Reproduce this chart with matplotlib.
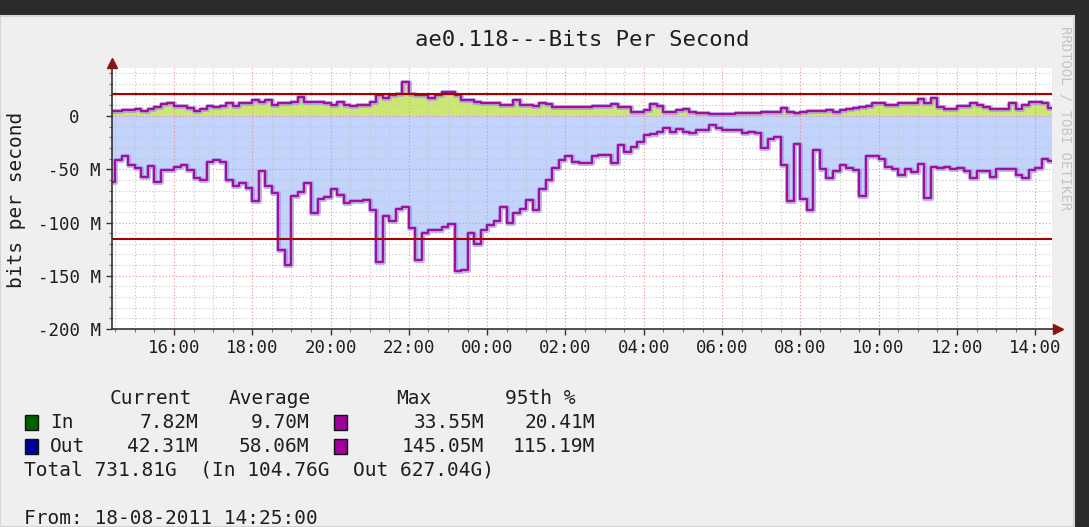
import pandas as pd
import matplotlib
matplotlib.use("Agg")
import matplotlib.pyplot as plt
import matplotlib.dates as mdates
from matplotlib.ticker import MultipleLocator
from matplotlib.patches import Rectangle

W, H = 1089, 527

# 10-minute samples, 18-08-2011 14:25 -> 19-08-2011 14:25 (Mbit/s)
times = pd.date_range("2011-08-18 14:25", periods=145, freq="10min")

in_mbps = [5, 5, 5.5, 5.5, 6.5, 5, 7, 8, 11, 12.5, 9, 9.5, 7.5, 5, 7, 9, 8, 9, 12, 9, 12, 12, 15, 13, 15,
           10, 12, 12, 13.5, 18, 13.5, 13.5, 13.5, 12, 10.5, 13, 10, 9, 10, 10, 13, 20, 17, 19.5, 21, 32, 21, 20,
           20, 17, 20, 22.5, 22.5, 20, 15, 15, 13.5, 12, 12, 12, 10.5, 10, 15, 10, 10, 9.5, 12, 11, 8.5, 8, 8, 8,
           8.8, 8.8, 9.4, 9.4, 9.4, 11, 8.8, 8.8, 4, 4, 5.6, 11, 9, 4.1, 4.1, 5.6, 6.6, 4, 3, 3, 2, 2, 2, 2,
           2.5, 3, 3, 3, 3.3, 3.3, 3.3, 7.2, 4, 3, 4, 5, 5, 5, 5.6, 4, 6, 6.6, 7.5, 8, 9, 12, 11.9, 10.3,
           10.3, 12, 12, 12, 15.6, 12, 17, 8.8, 6.3, 7, 9.4, 9.4, 12, 10.3, 8.8, 6.3, 7, 7, 12.5, 7, 10.3, 13.4, 13.4, 12, 7.8]

out_mbps = [62, 41, 38, 46, 49, 57, 47, 62, 51, 51, 48, 46, 51, 58, 60, 43, 41, 43, 60, 66, 63, 68, 80, 52, 66,
            72, 126, 140, 75, 71, 63, 91, 78, 76, 69, 74, 82, 80, 80, 79, 88, 137, 94, 99, 87, 85, 105, 135,
            110, 107, 107, 104, 101, 146, 145, 110, 120, 107, 102, 99, 85, 100, 91, 87, 79, 88, 69, 60, 49, 41, 38, 43,
            44, 44, 38, 37, 37, 44, 27, 34, 29, 24, 18, 16.5, 15, 11.5, 14.7, 12, 14.7, 16, 13, 13, 8.5, 11.6, 13, 13,
            13, 16, 15, 16, 30, 22, 19.4, 46, 80, 26, 78, 88, 32, 50, 58, 52, 46, 49, 51, 75, 38, 38, 40, 48,
            50, 55, 50, 53, 45, 77, 47.5, 49, 47.5, 50, 49, 52, 58, 52, 52, 57, 50, 50, 50, 55, 58, 51, 49, 40, 42]

in_p95 = 20.41
out_p95 = 115.19

y_ticks = [0, -50, -100, -150, -200]
y_tick_labels = ["0  ", "-50 M", "-100 M", "-150 M", "-200 M"]

legend_header = [("Current", 110), ("Average", 229), ("Max", 396), ("95th %", 505)]
legend_rows = [
    ("In", "#006000", ["7.82M", "9.70M", "33.55M", "20.41M"], 422),
    ("Out", "#00009a", ["42.31M", "58.06M", "145.05M", "115.19M"], 446),
]
total_line = "Total 731.81G  (In 104.76G  Out 627.04G)"
from_line = "From: 18-08-2011 14:25:00"

plt.rcParams["font.family"] = "DejaVu Sans Mono"
txt = "#1e1e1e"


def fx(x):
    return x / W


def fy(y):
    return 1 - y / H


fig = plt.figure(figsize=(W / 100, H / 100), dpi=100, facecolor="#2b2b2b")
fig.add_artist(Rectangle((0, 0), fx(1074), 1 - 16 / H, transform=fig.transFigure,
                         facecolor="#efefef", edgecolor="#d4d4d4", lw=1.5, zorder=-5))

top_px, bot_px = 68, 329
ax = fig.add_axes([fx(112), fy(bot_px), 939.6 / W, (bot_px - top_px) / H])
ax.set_facecolor("white")

t0 = times[0]
ax.set_xlim(t0, t0 + pd.Timedelta(hours=24))
ax.set_ylim(-200, -200 + 200 * (bot_px - top_px) / 213)

neg_out = [-v for v in out_mbps]
ax.fill_between(times, 0, in_mbps, step="mid", color="#cce674", lw=0, zorder=1)
ax.fill_between(times, 0, neg_out, step="mid", color="#c2d3fc", lw=0, zorder=1)
for series in (in_mbps, neg_out):
    ax.step(times, series, where="mid", color="#a496e6", lw=3.6, alpha=0.7, zorder=3)
    ax.step(times, series, where="mid", color="#a0109a", lw=1.6, zorder=3.2)

ax.axhline(in_p95, color="#a80000", lw=1.5, zorder=4)
ax.axhline(-out_p95, color="#a80000", lw=1.5, zorder=4)

ax.xaxis.set_major_locator(mdates.HourLocator(byhour=range(0, 24, 2)))
ax.xaxis.set_minor_locator(mdates.MinuteLocator(byminute=[0, 30]))
ax.xaxis.set_major_formatter(mdates.DateFormatter("%H:%M"))
ax.set_yticks(y_ticks)
ax.set_yticklabels(y_tick_labels)
ax.yaxis.set_minor_locator(MultipleLocator(10))

ax.set_axisbelow(False)
ax.grid(which="minor", color="#c4c4c4", linestyle=(0, (1, 2)), lw=0.8)
ax.grid(which="major", color="#f08a8a", linestyle=(0, (1, 2)), lw=0.8)

for s in ("top", "right", "left", "bottom"):
    ax.spines[s].set_visible(False)
ax.plot([0, 0], [0, 1.012], transform=ax.transAxes, color="#333333", lw=1.2, clip_on=False, zorder=5)
ax.plot([0, 1.006], [0, 0], transform=ax.transAxes, color="#333333", lw=1.2, clip_on=False, zorder=5)
ax.plot([0], [1.02], marker="^", ms=7, color="#8a1414", transform=ax.transAxes, clip_on=False, zorder=6)
ax.plot([1.007], [0], marker=">", ms=7, color="#8a1414", transform=ax.transAxes, clip_on=False, zorder=6)

ax.tick_params(which="major", length=4, width=1, color="#333333", labelsize=12.5, labelcolor=txt)
ax.tick_params(which="minor", length=2, width=0.8, color="#777777")
ax.tick_params(axis="y", pad=4)
ax.tick_params(axis="x", pad=3)

fig.text(fx(582), fy(40), "ae0.118---Bits Per Second", ha="center", va="center", fontsize=16, color=txt)
fig.text(fx(17), fy(200), "bits per second", ha="center", va="center", rotation=90, fontsize=14, color=txt)
fig.text(fx(1066), fy(118), "RRDTOOL / TOBI OETIKER", ha="center", va="center", rotation=-90,
         fontsize=10, color="#c4c4c4")

for label, x in legend_header:
    fig.text(fx(x), fy(398), label, ha="left", va="center", fontsize=14, color=txt)

num_right = [198, 309, 484, 595]
for name, colour, vals, y in legend_rows:
    fig.add_artist(Rectangle((fx(25), fy(y + 8)), 13 / W, 15 / H, transform=fig.transFigure,
                             facecolor=colour, edgecolor="#111111", lw=1))
    fig.add_artist(Rectangle((fx(334), fy(y + 8)), 13 / W, 15 / H, transform=fig.transFigure,
                             facecolor="#a0009a", edgecolor="#111111", lw=1))
    fig.text(fx(50), fy(y), name, ha="left", va="center", fontsize=14, color=txt)
    for v, xr in zip(vals, num_right):
        fig.text(fx(xr), fy(y), v, ha="right", va="center", fontsize=14, color=txt)

fig.text(fx(24), fy(470), total_line, ha="left", va="center", fontsize=14, color=txt)
fig.text(fx(24), fy(518), from_line, ha="left", va="center", fontsize=14, color=txt)

fig.savefig("out.png", dpi=100, facecolor=fig.get_facecolor())
